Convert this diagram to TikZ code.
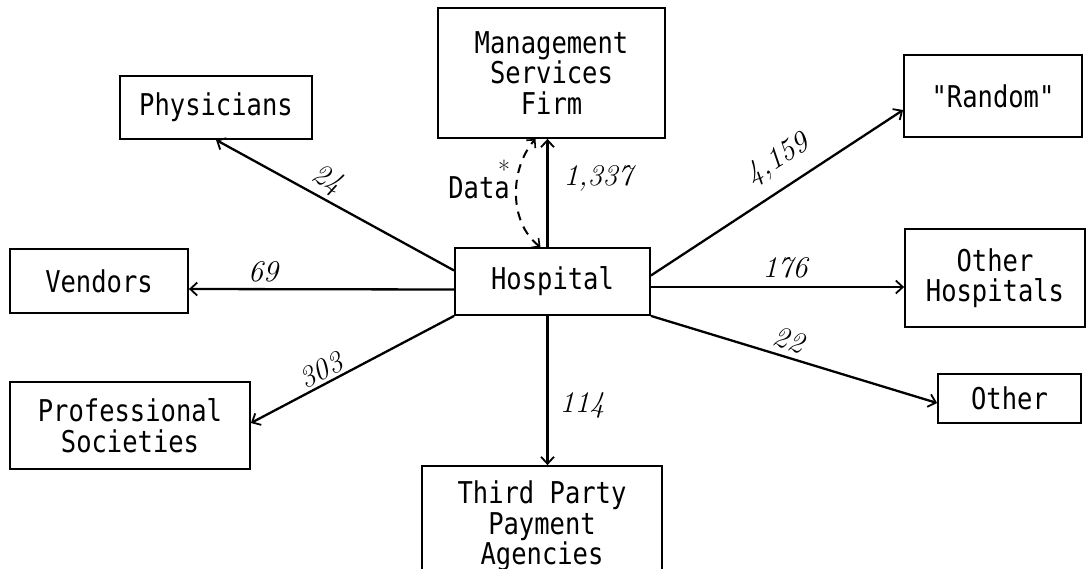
\documentclass[tikz,border=0pt]{standalone}
\usepackage{fontspec}
\setmonofont[FakeStretch=0.85]{DejaVu Sans Mono}
\usetikzlibrary{arrows.meta}
\newcommand\boxfont{\fontsize{30}{30.5}\selectfont\ttfamily}
\newcommand\countfont{\fontsize{30}{31}\selectfont\itshape}
\begin{document}
\begin{tikzpicture}[x=1pt,y=-1pt,
  box/.style={draw, line width=1.8pt, inner sep=0pt, align=center, font=\boxfont},
  flow/.style={line width=2.3pt, -{Straight Barb[length=7pt,width=13pt,line width=1.8pt]}},
  count/.style={font=\countfont, inner sep=0pt}]
\useasboundingbox (0,0) rectangle (1089,568);

% boxes
\node[box, minimum width=227pt, minimum height=130pt] (msf) at (551.5,73) {Management\\Services\\Firm};
\node[box, minimum width=195pt, minimum height=67pt] (hosp) at (552.5,281.5) {Hospital};
\node[box, minimum width=192pt, minimum height=63pt] (phys) at (216,107.5) {Physicians};
\node[box, minimum width=178pt, minimum height=64pt] (vend) at (99,281) {Vendors};
\node[box, minimum width=240pt, minimum height=87pt] (prof) at (130,425.5) {Professional\\Societies};
\node[box, minimum width=240pt, minimum height=120pt] (third) at (542,526) {Third Party\\Payment\\Agencies};
\node[box, minimum width=178pt, minimum height=82pt] (rand) at (993,96) {"Random"};
\node[box, minimum width=180pt, minimum height=98pt] (ohosp) at (995,278) {Other\\Hospitals};
\node[box, minimum width=143pt, minimum height=49pt] (other) at (1009.5,398.5) {Other};

% flows out of the hospital
\draw[flow] ([yshift=11pt]hosp.west) -- (phys.south);
\draw[flow] ([yshift=-8pt]hosp.west) -- ([yshift=-8pt]vend.east);
\draw[flow] (hosp.south west) -- ([yshift=2.5pt]prof.east);
\draw[flow] ([xshift=-5pt]hosp.south) -- ([xshift=-5pt]hosp.south |- third.north);
\draw[flow] ([xshift=-5pt]hosp.north) -- ([xshift=-5pt]hosp.north |- msf.south);
\draw[flow] ([yshift=6pt]hosp.east) -- ([yshift=-14pt]rand.west);
\coordinate (h176) at ([yshift=-5.5pt]hosp.east);
\draw[flow] (h176) -- (h176 -| ohosp.west);
\draw[flow] (hosp.south east) -- ([yshift=-4.5pt]other.west);

% data exchange with the management services firm
\draw[line width=2pt, dash pattern=on 9pt off 7pt,
      {Straight Barb[length=6pt,width=12pt,line width=1.6pt]}-{Straight Barb[length=6pt,width=12pt,line width=1.6pt]}]
  ([xshift=-12pt]hosp.north) .. controls (508,222) and (510,168) .. ([xshift=-16pt]msf.south);
\node[font=\boxfont, inner sep=0pt] (data) at (479,188) {Data};
\node[font=\fontsize{26}{26}\selectfont, inner sep=0pt] (star) at (504,170) {*};

% counts
\node[count, rotate=-28] (n24) at (327,180) {24};
\node[count] (n69) at (263,272) {69};
\node[count, rotate=28] (n303) at (321,370) {303};
\node[count] (n114) at (582,405) {114};
\node[count] (n1337) at (598,178) {1,337};
\node[count, rotate=33] (n4159) at (778,160) {4,159};
\node[count] (n176) at (785,268) {176};
\node[count, rotate=-17] (n22) at (789,340) {22};
\end{tikzpicture}
\end{document}
